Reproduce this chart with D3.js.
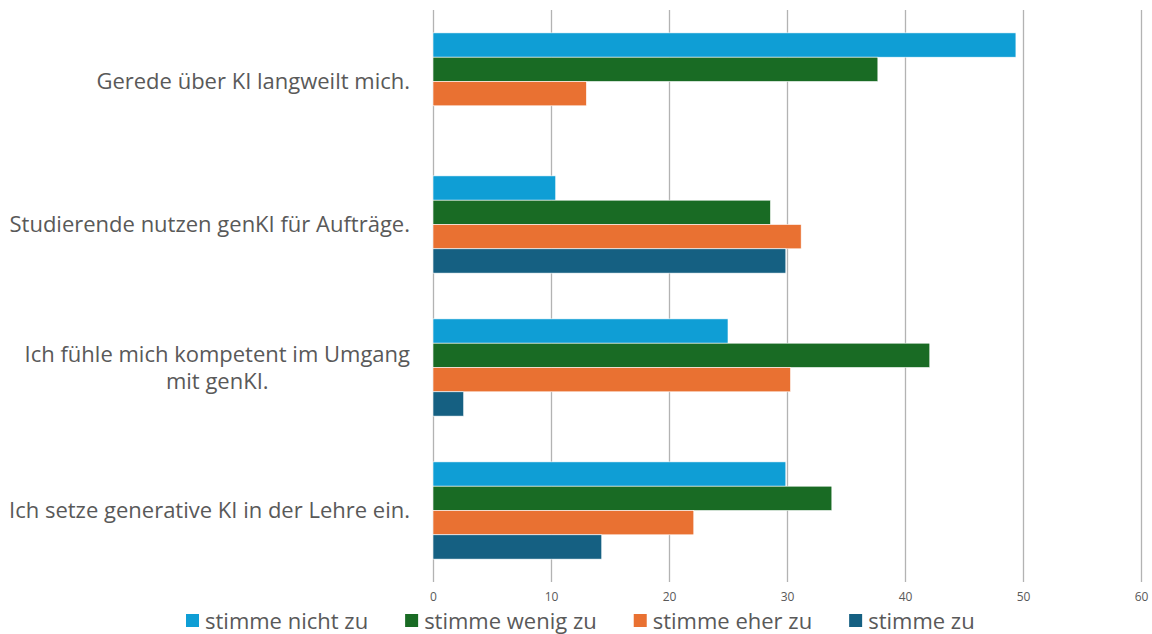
<!DOCTYPE html>
<html>
<head>
<meta charset="utf-8">
<script src="https://cdn.jsdelivr.net/npm/d3@7"></script>
<style>
  body { margin: 0; background: #fff; }
  svg { display: block; }
</style>
</head>
<body>
<div id="container"></div>
<script>
// data (percent)
let categories = [
  "Gerede über KI langweilt mich.",
  "Studierende nutzen genKI für Aufträge.",
  "Ich fühle mich kompetent im Umgang mit genKI.",
  "Ich setze generative KI in der Lehre ein."
];
let seriesNames = ["stimme nicht zu", "stimme wenig zu", "stimme eher zu", "stimme zu"];
let nichtZu = [49.4, 10.4, 25.0, 29.9];
let wenigZu = [37.7, 28.6, 42.1, 33.8];
let eherZu  = [13.0, 31.2, 30.3, 22.1];
let stimmeZu = [0, 29.9, 2.6, 14.3];
let xTicks = [0, 10, 20, 30, 40, 50, 60];
let colors = ["#0F9ED5", "#196B24", "#E97132", "#156082"];

// label line breaks as in the picture
let labelLines = {
  "Ich fühle mich kompetent im Umgang mit genKI.": ["Ich fühle mich kompetent im Umgang", "mit genKI."]
};

let w = 1152;
let h = 634;
let plotLeft = 433, plotRight = 1141, plotTop = 10, plotBottom = 582;
let font = "'Open Sans', 'Noto Sans', sans-serif";
let textColor = "#595959";

let allSeries = [nichtZu, wenigZu, eherZu, stimmeZu];
let rows = categories.map(function (c, i) {
  return { cat: c, values: allSeries.map(function (s, j) { return { key: seriesNames[j], value: s[i], idx: j }; }) };
});

let viz = d3.select("#container")
  .append("svg")
  .attr("width", w)
  .attr("height", h);

let xScale = d3.scaleLinear().domain([0, 60]).range([plotLeft, plotRight]);
let yScale = d3.scaleBand().domain(categories).range([plotTop, plotBottom])
  .paddingInner(0.32).paddingOuter(0.16);
let innerScale = d3.scaleBand().domain(seriesNames).range([0, yScale.bandwidth()]);

// gridlines + tick labels
let xAxis = d3.axisBottom(xScale).tickValues(xTicks).tickSize(-(plotBottom - plotTop)).tickPadding(10);
let xAxisGroup = viz.append("g")
  .attr("class", "xaxisgroup")
  .attr("transform", "translate(0," + plotBottom + ")")
  .call(xAxis);
xAxisGroup.select(".domain").remove();
xAxisGroup.selectAll("line").attr("stroke", "#b3b3b3").attr("stroke-width", 1.3);
xAxisGroup.selectAll("text")
  .attr("fill", textColor)
  .style("font-family", font)
  .style("font-size", "12px");

// bars
let groups = viz.append("g").attr("class", "graphGroup")
  .selectAll(".datapoint").data(rows).enter()
  .append("g").classed("datapoint", true)
  .attr("transform", function (d) { return "translate(0," + yScale(d.cat) + ")"; });

groups.selectAll("rect").data(function (d) { return d.values; }).enter()
  .append("rect")
  .attr("x", xScale(0))
  .attr("y", function (d) { return innerScale(d.key); })
  .attr("width", function (d) { return xScale(d.value) - xScale(0); })
  .attr("height", innerScale.bandwidth())
  .attr("fill", function (d) { return colors[d.idx]; })
  .attr("stroke", "#ffffff")
  .attr("stroke-width", 0.6)
  .attr("stroke-opacity", function (d) { return d.value > 0 ? 1 : 0; });

// category labels
let labelRight = 410;
let labelSize = 22;
let lineH = 27;
categories.forEach(function (c) {
  let lines = labelLines[c] || [c];
  let cy = yScale(c) + yScale.bandwidth() / 2;
  let t = viz.append("text")
    .attr("fill", textColor)
    .style("font-family", font)
    .style("font-size", labelSize + "px")
    .attr("text-anchor", "middle");
  let spans = lines.map(function (l, i) {
    return t.append("tspan").text(l)
      .attr("y", cy + (i - (lines.length - 1) / 2) * lineH)
      .attr("dy", "0.35em");
  });
  let maxW = d3.max(spans, function (s) { return s.node().getComputedTextLength(); });
  spans.forEach(function (s) { s.attr("x", labelRight - maxW / 2); });
});

// legend
let legendY = 621;
let legendSize = 22;
let legend = viz.append("g").attr("class", "legend");
let items = legend.selectAll("g").data(seriesNames).enter().append("g");
items.append("rect")
  .attr("width", 13).attr("height", 13)
  .attr("y", legendY - 7)
  .attr("fill", function (d, i) { return colors[i]; });
items.append("text")
  .text(function (d) { return d; })
  .attr("x", 19)
  .attr("y", legendY)
  .attr("dy", "0.35em")
  .attr("fill", textColor)
  .style("font-family", font)
  .style("font-size", legendSize + "px");
let widths = [];
items.each(function () { widths.push(d3.select(this).select("text").node().getComputedTextLength() + 19); });
let gap = 37;
let total = d3.sum(widths) + gap * (widths.length - 1);
let xPos = 186;
items.attr("transform", function (d, i) {
  let x = xPos;
  xPos += widths[i] + gap;
  return "translate(" + x + ",0)";
});
</script>
</body>
</html>
